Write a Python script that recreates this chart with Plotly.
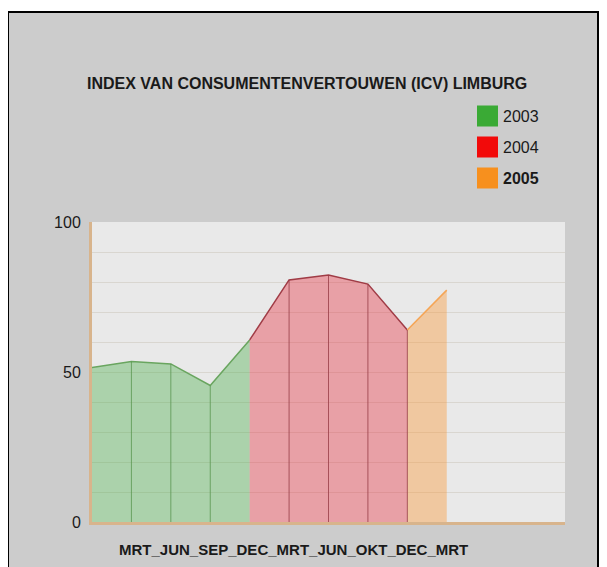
import plotly.graph_objects as go

title = "INDEX VAN CONSUMENTENVERTOUWEN (ICV) LIMBURG"
xlabel_text = "MRT_JUN_SEP_DEC_MRT_JUN_OKT_DEC_MRT"
years = ["2003", "2004", "2005"]
x_2003 = [0, 1, 2, 3, 4]
v_2003 = [51.5, 53.5, 52.7, 45.5, 60.7]
x_2004 = [4, 5, 6, 7, 8]
v_2004 = [60.7, 80.7, 82.3, 79.3, 64.0]
x_2005 = [8, 9]
v_2005 = [64.0, 77.3]
y_ticks = [0, 50, 100]

line_cols = ["rgb(105,165,95)", "rgb(160,60,70)", "rgb(245,165,85)"]
fill_cols = ["rgba(60,170,60,0.36)", "rgba(230,50,65,0.40)", "rgba(250,150,50,0.40)"]
vline_cols = ["rgba(90,150,80,0.8)", "rgba(150,60,70,0.8)", "rgba(230,150,80,0.8)"]
legend_cols = ["#3aaa35", "#f20a0a", "#f7901e"]

# page pixel -> paper coordinate helpers (plot area spans page x 92..565, y 222..522)
def pxx(p):
    return (p - 92) / 473.0

def pxy(p):
    return (522 - p) / 300.0

fig = go.Figure()
series = [(x_2003, v_2003), (x_2004, v_2004), (x_2005, v_2005)]
for i, (xs, vs) in enumerate(series):
    fig.add_trace(go.Scatter(x=xs, y=vs, mode="lines", fill="tozeroy",
                             fillcolor=fill_cols[i],
                             line=dict(color=line_cols[i], width=1.5),
                             name=years[i], showlegend=False,
                             hoverinfo="skip"))

shapes = []
# outer panel
shapes.append(dict(type="rect", xref="paper", yref="paper",
                   x0=pxx(8), x1=pxx(598), y0=pxy(580), y1=pxy(12),
                   fillcolor="#cccccc", line=dict(color="black", width=2),
                   layer="below"))
# plot background
shapes.append(dict(type="rect", xref="paper", yref="paper",
                   x0=0, x1=1, y0=0, y1=1,
                   fillcolor="#e9e9e9", line=dict(width=0),
                   layer="below"))
# vertical lines inside fills
for i, (xs, vs) in enumerate(series):
    if i == 2:
        continue
    for xv, yv in zip(xs[1:], vs[1:]):
        if i == 0 and xv == xs[-1]:
            continue
        shapes.append(dict(type="line", xref="x", yref="y", x0=xv, x1=xv,
                           y0=0, y1=yv, line=dict(color=vline_cols[i], width=1)))

# legend (squares + labels)
annotations = []
leg_y = [116, 147, 178]
for i, yr in enumerate(years):
    yc = pxy(leg_y[i])
    shapes.append(dict(type="rect", xref="paper", yref="paper",
                       x0=pxx(477), x1=pxx(498),
                       y0=yc - 10.5 / 300, y1=yc + 10.5 / 300,
                       fillcolor=legend_cols[i], line=dict(width=0)))
    txt = "<b>%s</b>" % yr if i == 2 else yr
    annotations.append(dict(xref="paper", yref="paper", x=pxx(501),
                            y=yc, xanchor="left", yanchor="middle",
                            text=txt, showarrow=False,
                            font=dict(size=16, color="#1a1a1a",
                                      family="Liberation Sans, Arial")))

annotations.append(dict(xref="paper", yref="paper", x=pxx(307),
                        y=pxy(83), xanchor="center", yanchor="middle",
                        text="<b>%s</b>" % title, showarrow=False,
                        font=dict(size=16, color="#1a1a1a",
                                  family="Liberation Sans, Arial")))
annotations.append(dict(xref="paper", yref="paper", x=pxx(293),
                        y=pxy(549), xanchor="center", yanchor="middle",
                        text="<b>%s</b>" % xlabel_text, showarrow=False,
                        font=dict(size=15, color="#1a1a1a",
                                  family="Liberation Sans, Arial")))

fig.update_layout(
    width=607, height=567,
    margin=dict(l=84, r=50, t=214, b=53),
    paper_bgcolor="white",
    plot_bgcolor="#e9e9e9",
    shapes=shapes,
    annotations=annotations,
    showlegend=False,
    xaxis=dict(range=[0, 12], showgrid=False, zeroline=False,
               showticklabels=False, ticks="", showline=True,
               linecolor="#d8b48c", linewidth=3, fixedrange=True),
    yaxis=dict(range=[0, 100], tickvals=y_ticks, ticktext=[str(v) for v in y_ticks],
               showgrid=True, gridcolor="#d9d6d0", gridwidth=1, zeroline=False,
               showline=True, linecolor="#d8b48c", linewidth=3,
               ticks="", ticklabelstandoff=5,
               tickfont=dict(size=16, color="#1a1a1a", family="Liberation Sans, Arial"),
               minor=dict(dtick=10, showgrid=True, gridcolor="#d9d6d0", gridwidth=1),
               fixedrange=True),
)

fig.write_html("out.html")
